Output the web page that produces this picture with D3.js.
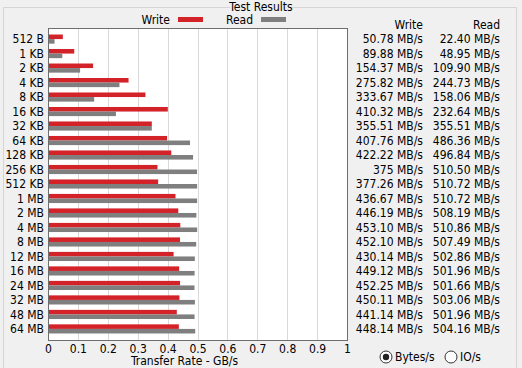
<!DOCTYPE html>
<html>
<head>
<meta charset="utf-8">
<script src="https://cdn.jsdelivr.net/npm/d3@7"></script>
<style>
  body { margin: 0; background: #f0f0f0; }
  svg { display: block; }
  text { font-family: "Liberation Sans Narrow", "DejaVu Sans Condensed", "Liberation Sans", sans-serif; font-size: 12px; fill: #000; }
</style>
</head>
<body>
<svg id="chart"></svg>
<script>
const width = 522;
const height = 368;

const sizes = ["512 B", "1 KB", "2 KB", "4 KB", "8 KB", "16 KB", "32 KB", "64 KB", "128 KB",
  "256 KB", "512 KB", "1 MB", "2 MB", "4 MB", "8 MB", "12 MB", "16 MB", "24 MB", "32 MB", "48 MB", "64 MB"];
const writeMBs = [50.78, 89.88, 154.37, 275.82, 333.67, 410.32, 355.51, 407.76, 422.22,
  375, 377.26, 436.67, 446.19, 453.10, 452.10, 430.14, 449.12, 452.25, 450.11, 441.14, 448.14];
const readMBs = [22.40, 48.95, 109.90, 244.73, 158.06, 232.64, 355.51, 486.36, 496.84,
  510.50, 510.72, 510.72, 508.19, 510.86, 507.49, 502.86, 501.96, 501.66, 503.06, 501.96, 504.16];
const xTicks = [0, 0.1, 0.2, 0.3, 0.4, 0.5, 0.6, 0.7, 0.8, 0.9, 1];

const writeColor = "#d42229";
const readColor = "#7f7f7f";

const svg = d3.select("#chart").attr("width", width).attr("height", height);

const plot = { left: 48, right: 347, top: 28, bottom: 340 };

const x = d3.scaleLinear().domain([0, 1]).range([plot.left, plot.right]);
const y = d3.scaleBand()
  .domain(sizes)
  .range([plot.top, plot.bottom])
  .paddingInner(0.37)
  .paddingOuter(0.45);

// group box
svg.append("path")
  .attr("d", `M230,7.5 H3.5 V368 M292,7.5 H516.5 V368`)
  .attr("fill", "none")
  .attr("stroke", "#d5d5d5");
svg.append("text")
  .attr("x", 261).attr("y", 11)
  .attr("text-anchor", "middle")
  .text("Test Results");

// legend
const legend = [
  { name: "Write", color: writeColor, tx: 170, sx: 178 },
  { name: "Read", color: readColor, tx: 253, sx: 261 }
];
svg.selectAll(".legend-label")
  .data(legend)
  .enter()
  .append("text")
  .attr("x", (d) => d.tx)
  .attr("y", 24)
  .attr("text-anchor", "end")
  .text((d) => d.name);
svg.selectAll(".legend-swatch")
  .data(legend)
  .enter()
  .append("rect")
  .attr("x", (d) => d.sx)
  .attr("y", 17)
  .attr("width", 25)
  .attr("height", 5)
  .attr("fill", (d) => d.color);

// plot background
svg.append("rect")
  .attr("x", plot.left)
  .attr("y", plot.top)
  .attr("width", plot.right - plot.left)
  .attr("height", plot.bottom - plot.top)
  .attr("fill", "#fff");

// grid
svg.selectAll(".grid")
  .data(xTicks.slice(1, -1))
  .enter()
  .append("line")
  .attr("x1", (d) => Math.round(x(d)) + 0.5)
  .attr("x2", (d) => Math.round(x(d)) + 0.5)
  .attr("y1", plot.top)
  .attr("y2", plot.bottom)
  .attr("stroke", "#d9d9d9");

// bars
const rows = sizes.map((s, i) => ({ size: s, write: writeMBs[i] / 1024, read: readMBs[i] / 1024 }));
const half = y.bandwidth() / 2;

svg.selectAll(".bar-write")
  .data(rows)
  .enter()
  .append("rect")
  .attr("x", plot.left)
  .attr("y", (d) => y(d.size))
  .attr("width", (d) => x(d.write) - plot.left)
  .attr("height", half)
  .attr("fill", writeColor);

svg.selectAll(".bar-read")
  .data(rows)
  .enter()
  .append("rect")
  .attr("x", plot.left)
  .attr("y", (d) => y(d.size) + half)
  .attr("width", (d) => x(d.read) - plot.left)
  .attr("height", half)
  .attr("fill", readColor);

// plot border
svg.append("rect")
  .attr("x", plot.left + 0.5)
  .attr("y", plot.top + 0.5)
  .attr("width", plot.right - plot.left)
  .attr("height", plot.bottom - plot.top)
  .attr("fill", "none")
  .attr("stroke", "#6e6e6e");

// y axis labels
svg.selectAll(".ylabel")
  .data(sizes)
  .enter()
  .append("text")
  .attr("x", 44)
  .attr("y", (d) => y(d) + half)
  .attr("dy", "0.36em")
  .attr("text-anchor", "end")
  .text((d) => d);

// x axis
const xAxis = svg.append("g")
  .attr("transform", `translate(0,${plot.bottom})`)
  .call(d3.axisBottom(x).tickValues(xTicks).tickSize(0).tickPadding(4).tickFormat((d) => String(d)));
xAxis.select(".domain").remove();
xAxis.selectAll("text").attr("font-family", null).attr("font-size", null);

svg.append("text")
  .attr("x", (plot.left + plot.right) / 2 - 13)
  .attr("y", 365)
  .attr("text-anchor", "middle")
  .text("Transfer Rate - GB/s");

// value table
const cols = [
  { name: "Write", values: writeMBs, right: 423 },
  { name: "Read", values: readMBs, right: 500 }
];
const fmt = (v) => (Number.isInteger(v) ? String(v) : v.toFixed(2)) + " MB/s";

cols.forEach((c) => {
  svg.append("text")
    .attr("x", c.right)
    .attr("y", 29)
    .attr("text-anchor", "end")
    .text(c.name);
  svg.selectAll(null)
    .data(c.values)
    .enter()
    .append("text")
    .attr("x", c.right)
    .attr("y", (d, i) => y(sizes[i]) + half)
    .attr("dy", "0.36em")
    .attr("text-anchor", "end")
    .text(fmt);
});

// radio buttons
const radios = [
  { label: "Bytes/s", cx: 386, on: true },
  { label: "IO/s", cx: 451, on: false }
];
radios.forEach((r) => {
  svg.append("circle")
    .attr("cx", r.cx).attr("cy", 357).attr("r", 6)
    .attr("fill", "#fff").attr("stroke", "#333");
  if (r.on) {
    svg.append("circle")
      .attr("cx", r.cx).attr("cy", 357).attr("r", 3.2)
      .attr("fill", "#222");
  }
  svg.append("text")
    .attr("x", r.cx + 9)
    .attr("y", 357)
    .attr("dy", "0.36em")
    .text(r.label);
});
</script>
</body>
</html>
